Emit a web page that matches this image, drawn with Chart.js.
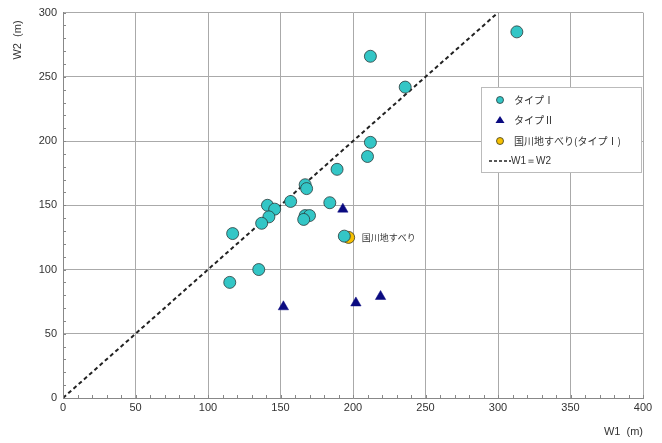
<!DOCTYPE html>
<html>
<head>
<meta charset="utf-8">
<script src="https://cdn.jsdelivr.net/npm/chart.js@4.4.1/dist/chart.umd.min.js"></script>
<style>
  html, body { margin: 0; padding: 0; background: #fff; }
  #wrap { width: 662px; height: 443px; }
</style>
</head>
<body>
<div id="wrap"><canvas id="chart"></canvas></div>
<script>
// W1, W2 (m)
const type1W1 = [313, 212, 236, 212, 210, 189, 167, 168, 157, 184, 141, 146, 142, 137, 167, 170, 166, 117, 194, 135, 115];
const type1W2 = [285, 266, 242, 199, 188, 178, 166, 163, 153, 152, 150, 147, 141, 136, 142, 142, 139, 128, 126, 100, 90];

const type2W1 = [193, 152, 202, 219];
const type2W2 = [147, 71, 74, 79];

const kunikawaW1 = [197];
const kunikawaW2 = [125];

const equalLine = [0, 300];

const legendLabels = ["タイプⅠ", "タイプⅡ", "国川地すべり(タイプⅠ)", "W1＝W2"];
const pointLabel = "国川地すべり";
const yTitle = "W2  (m)";

function toPoints(xs, ys) {
  return xs.map((x, i) => ({ x: x, y: ys[i] }));
}

const FONT = "'Liberation Sans', Arial, sans-serif";
const JFONT = "'Noto Sans CJK JP', 'Liberation Sans', sans-serif";

// minor ticks inside the plot, labels, legend
const extras = {
  id: "extras",
  afterDraw(chart) {
    const ctx = chart.ctx;
    const xs = chart.scales.x;
    const ys = chart.scales.y;
    const area = chart.chartArea;
    ctx.save();
    ctx.strokeStyle = "#888";
    ctx.lineWidth = 1;
    for (let v = 0; v <= 400; v += 10) {
      const px = Math.round(xs.getPixelForValue(v)) + 0.5;
      ctx.beginPath();
      ctx.moveTo(px, area.bottom);
      ctx.lineTo(px, area.bottom - 3);
      ctx.stroke();
    }
    for (let v = 0; v <= 300; v += 10) {
      const py = Math.round(ys.getPixelForValue(v)) + 0.5;
      ctx.beginPath();
      ctx.moveTo(area.left, py);
      ctx.lineTo(area.left + 3, py);
      ctx.stroke();
    }

    // y axis title
    ctx.save();
    ctx.translate(18, 40);
    ctx.rotate(-Math.PI / 2);
    ctx.fillStyle = "#333";
    ctx.font = "11px " + FONT;
    ctx.textAlign = "center";
    ctx.textBaseline = "middle";
    ctx.fillText(yTitle, 0, 0);
    ctx.restore();

    // label next to the Kunikawa point
    const kx = xs.getPixelForValue(kunikawaW1[0]);
    const ky = ys.getPixelForValue(kunikawaW2[0]);
    ctx.fillStyle = "#333";
    ctx.font = "9px " + JFONT;
    ctx.textBaseline = "middle";
    ctx.textAlign = "left";
    ctx.fillText(pointLabel, kx + 13, ky);

    // legend box
    const lx = 481, ly = 87, lw = 160, lh = 85;
    ctx.fillStyle = "#fff";
    ctx.fillRect(lx, ly, lw, lh);
    ctx.strokeStyle = "#bbb";
    ctx.lineWidth = 1;
    ctx.strokeRect(lx + 0.5, ly + 0.5, lw, lh);
    const rows = [ly + 13, ly + 33, ly + 54, ly + 74];
    const sets = chart.data.datasets;
    ctx.font = "10px " + JFONT;
    for (let i = 0; i < 3; i++) {
      const d = sets[i];
      ctx.fillStyle = d.backgroundColor;
      ctx.strokeStyle = d.borderColor;
      ctx.lineWidth = 0.8;
      if (d.pointStyle === "triangle") {
        ctx.beginPath();
        ctx.moveTo(lx + 19, rows[i] - 4);
        ctx.lineTo(lx + 23.5, rows[i] + 3);
        ctx.lineTo(lx + 14.5, rows[i] + 3);
        ctx.closePath();
        ctx.fill();
      } else {
        ctx.beginPath();
        ctx.arc(lx + 19, rows[i], 3.5, 0, Math.PI * 2);
        ctx.fill();
        ctx.stroke();
      }
      ctx.fillStyle = "#333";
      ctx.fillText(legendLabels[i], lx + 33, rows[i]);
    }
    ctx.strokeStyle = "#222";
    ctx.lineWidth = 1.5;
    ctx.setLineDash([3, 2]);
    ctx.beginPath();
    ctx.moveTo(lx + 8, rows[3]);
    ctx.lineTo(lx + 30, rows[3]);
    ctx.stroke();
    ctx.setLineDash([]);
    ctx.fillStyle = "#333";
    ctx.font = "10px " + FONT;
    ctx.fillText(legendLabels[3], lx + 30, rows[3]);
    ctx.restore();
  }
};

new Chart(document.getElementById("chart"), {
  type: "scatter",
  data: {
    datasets: [
      {
        label: legendLabels[0],
        data: toPoints(type1W1, type1W2),
        backgroundColor: "#33c6c6",
        borderColor: "#2a3a3a",
        borderWidth: 0.8,
        pointRadius: 6,
        pointStyle: "circle",
      },
      {
        label: legendLabels[1],
        data: toPoints(type2W1, type2W2),
        backgroundColor: "#0a0a80",
        borderColor: "#0a0a80",
        borderWidth: 0.5,
        pointRadius: 6,
        pointStyle: "triangle",
      },
      {
        label: legendLabels[2],
        data: toPoints(kunikawaW1, kunikawaW2),
        backgroundColor: "#f7c000",
        borderColor: "#3a3a20",
        borderWidth: 0.8,
        pointRadius: 6,
        pointStyle: "circle",
      },
      {
        label: legendLabels[3],
        type: "line",
        data: toPoints(equalLine, equalLine),
        borderColor: "#222",
        borderWidth: 2,
        borderDash: [4, 3],
        pointRadius: 0,
        fill: false,
        order: 5,
      },
    ],
  },
  options: {
    responsive: true,
    maintainAspectRatio: false,
    animation: false,
    layout: { padding: { top: 8, right: 19, left: 0, bottom: 0 } },
    plugins: {
      legend: { display: false },
      tooltip: { enabled: false },
    },
    scales: {
      x: {
        type: "linear",
        min: 0,
        max: 400,
        afterFit(scale) { scale.height = 45; },
        ticks: {
          stepSize: 50,
          color: "#333",
          font: { family: FONT, size: 11 },
          padding: 3,
        },
        grid: { color: "#aaa", lineWidth: 1, drawTicks: false },
        border: { color: "#888", width: 1 },
        title: {
          display: true,
          text: "W1  (m)",
          align: "end",
          color: "#333",
          font: { family: FONT, size: 11 },
          padding: { top: 5 },
        },
      },
      y: {
        type: "linear",
        min: 0,
        max: 300,
        afterFit(scale) { scale.width = 63; },
        ticks: {
          stepSize: 50,
          color: "#333",
          font: { family: FONT, size: 11 },
          padding: 6,
        },
        grid: { color: "#aaa", lineWidth: 1, drawTicks: false },
        border: { color: "#888", width: 1 },
      },
    },
  },
  plugins: [extras],
});
</script>
</body>
</html>
